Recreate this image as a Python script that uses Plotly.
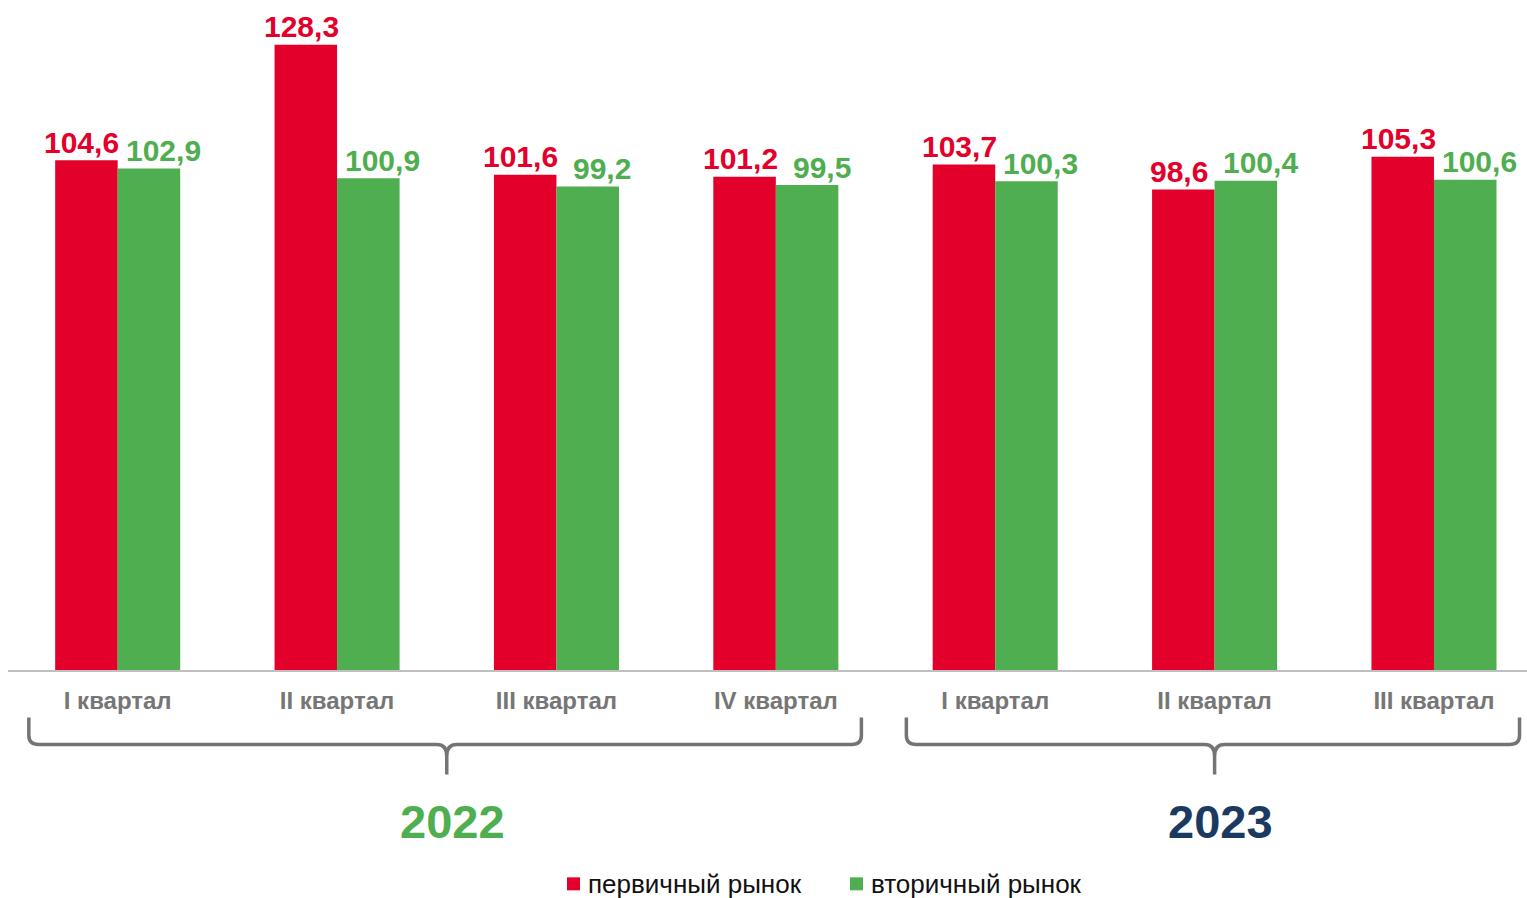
import plotly.graph_objects as go

quarters = ["I квартал", "II квартал", "III квартал", "IV квартал",
            "I квартал", "II квартал", "III квартал"]
primary = [104.6, 128.3, 101.6, 101.2, 103.7, 98.6, 105.3]
secondary = [102.9, 100.9, 99.2, 99.5, 100.3, 100.4, 100.6]
series_names = ["первичный рынок", "вторичный рынок"]
years = ["2022", "2023"]
year_members = [[0, 1, 2, 3], [4, 5, 6]]
year_colors = ["#4FAE4F", "#1A3A62"]

RED = "#E3002B"
GREEN = "#4FAE4F"
GRAY = "#767676"
FONT = "Liberation Sans, Arial, sans-serif"

W, H = 1527, 898
ML, MR, MT, MB = 8, 0, 12, 227.5
PW, PH = W - ML - MR, H - MT - MB


def px_to_paper_x(px):
    return (px - ML) / PW


def px_to_paper_y(py):
    return (H - MB - py) / PH


x = list(range(len(quarters)))
fmt = lambda v: f"{v:.1f}".replace(".", ",")

fig = go.Figure()
for vals, name, col in zip([primary, secondary], series_names, [RED, GREEN]):
    fig.add_trace(go.Bar(x=x, y=vals, name=name, marker_color=col,
                         marker_line_width=0, showlegend=False))

# value labels
for i, (p, s) in enumerate(zip(primary, secondary)):
    fig.add_annotation(x=i - 0.14, y=p, text=fmt(p), showarrow=False,
                       xshift=-5, yshift=18, yanchor="middle",
                       font=dict(family=FONT, size=30, color=RED, weight="bold"))
    fig.add_annotation(x=i + 0.14, y=s, text=fmt(s), showarrow=False,
                       xshift=15, yshift=18, yanchor="middle",
                       font=dict(family=FONT, size=30, color=GREEN, weight="bold"))

# year brackets
y_top, y_h, y_tip = px_to_paper_y(718), px_to_paper_y(745), px_to_paper_y(775)
d = px_to_paper_y(736) - y_h  # positive: corner rounding height
for yr, members, col in zip(years, year_members, year_colors):
    x0 = members[0] - 0.405
    x1 = members[-1] + 0.39
    xc = sum(members) / len(members)
    r = 0.045
    path = (f"M {x0},{y_top} L {x0},{y_h + d} Q {x0},{y_h} {x0 + r},{y_h} "
            f"L {xc - r},{y_h} Q {xc},{y_h} {xc},{y_h - 1.3 * d} L {xc},{y_tip} "
            f"L {xc},{y_h - 1.3 * d} Q {xc},{y_h} {xc + r},{y_h} "
            f"L {x1 - r},{y_h} Q {x1},{y_h} {x1},{y_h + d} L {x1},{y_top}")
    fig.add_shape(type="path", path=path, xref="x", yref="paper",
                  line=dict(color="#747474", width=3.5))
    fig.add_annotation(x=xc, y=px_to_paper_y(822), xref="x", yref="paper", text=yr,
                       showarrow=False, yanchor="middle", xshift=6,
                       font=dict(family=FONT, size=47, color=col, weight="bold"))

# legend (drawn manually to sit at the bottom edge without clipping)
legend_y = 884.5
for name, col, sq_left in zip(series_names, [RED, GREEN], [567, 850]):
    fig.add_shape(type="rect", xref="paper", yref="paper",
                  x0=px_to_paper_x(sq_left), x1=px_to_paper_x(sq_left + 13),
                  y0=px_to_paper_y(legend_y - 6.5), y1=px_to_paper_y(legend_y + 6.5),
                  fillcolor=col, line_width=0)
    fig.add_annotation(x=px_to_paper_x(sq_left + 19), y=px_to_paper_y(legend_y),
                       xref="paper", yref="paper", text=name, showarrow=False,
                       xanchor="left", yanchor="middle",
                       font=dict(family=FONT, size=26, color="#111111"))

fig.update_layout(
    width=W, height=H,
    margin=dict(l=ML, r=MR, t=MT, b=MB, autoexpand=False),
    paper_bgcolor="white", plot_bgcolor="white",
    barmode="group", bargap=0.43, bargroupgap=0,
    showlegend=False,
    xaxis=dict(tickmode="array", tickvals=x, ticktext=quarters,
               range=[-0.5, 6.424], showline=True, linecolor="#BFBFBF",
               linewidth=2, showgrid=False, zeroline=False, ticks="",
               ticklabelstandoff=8, automargin=False,
               tickfont=dict(family=FONT, size=24, color=GRAY, weight="bold")),
    yaxis=dict(range=[0, 135], visible=False, showgrid=False, zeroline=False,
               automargin=False),
)

fig.write_html(
    "out.html",
    config={"displayModeBar": False},
    post_script="document.body.style.margin='0';document.body.style.overflow='hidden';",
)
